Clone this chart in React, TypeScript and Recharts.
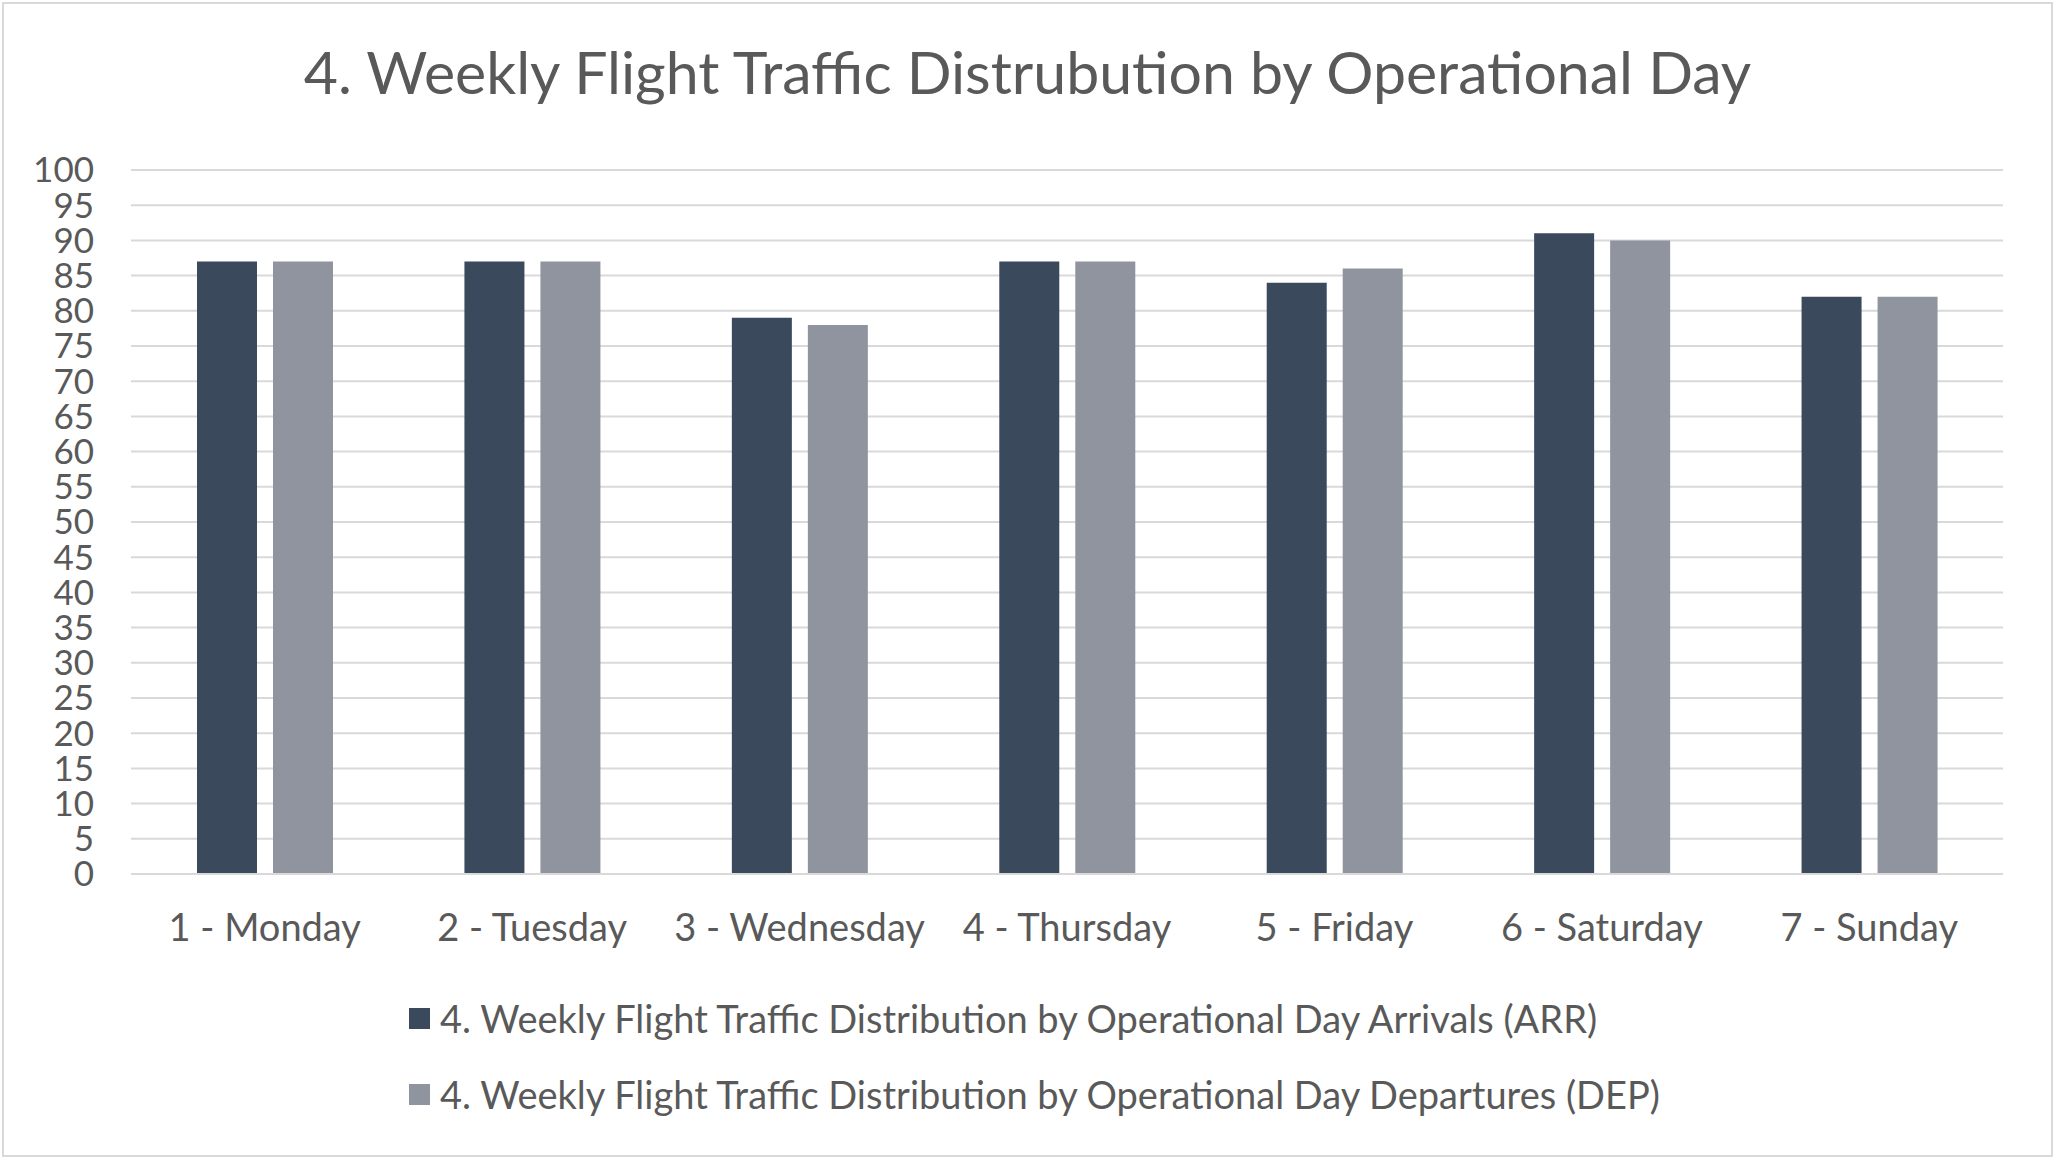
import React from "react";
import { BarChart, Bar, XAxis, YAxis, CartesianGrid, Legend } from "recharts";

const categories = ["1 - Monday", "2 - Tuesday", "3 - Wednesday", "4 - Thursday", "5 - Friday", "6 - Saturday", "7 - Sunday"];
const arrivals = [87, 87, 79, 87, 84, 91, 82];
const departures = [87, 87, 78, 87, 86, 90, 82];
const yTicks = [0, 5, 10, 15, 20, 25, 30, 35, 40, 45, 50, 55, 60, 65, 70, 75, 80, 85, 90, 95, 100];
const titleText = "4. Weekly Flight Traffic Distrubution by Operational Day";
const seriesNames = [
  "4. Weekly Flight Traffic Distribution by Operational Day Arrivals (ARR)",
  "4. Weekly Flight Traffic Distribution by Operational Day Departures (DEP)",
];
const seriesColors = ["#3A495C", "#8F949E"];

const data = categories.map((c, i) => ({ day: c, arr: arrivals[i], dep: departures[i] }));

const FONT = "Lato, 'Open Sans', sans-serif";
const TEXT = "#595959";

const LegendContent = (props: any) => {
  const payload = props.payload || [];
  return (
    <div style={{ paddingLeft: 409, fontFamily: FONT, color: TEXT, fontSize: 38 }}>
      {payload.map((p: any, i: number) => (
        <div key={i} style={{ display: "flex", alignItems: "center", height: 76 }}>
          <div style={{ width: 21, height: 21, background: p.color, marginRight: 10 }} />
          <span>{p.value}</span>
        </div>
      ))}
    </div>
  );
};

export default function App() {
  return (
    <div style={{ position: "absolute", left: 0, top: 0, width: 2055, height: 1159, background: "#fff" }}>
      <div
        style={{
          position: "absolute",
          left: 2,
          top: 2,
          width: 2051,
          height: 1155,
          border: "2px solid #D9D9D9",
          boxSizing: "border-box",
        }}
      />
      <div
        style={{
          position: "absolute",
          left: 0,
          top: 36,
          width: 2055,
          textAlign: "center",
          fontFamily: FONT,
          fontSize: 59,
          color: TEXT,
          lineHeight: "72px",
        }}
      >
        {titleText}
      </div>
      <div style={{ position: "absolute", left: 0, top: 0 }}>
        <BarChart
          width={2055}
          height={1159}
          data={data}
          margin={{ top: 170, right: 52, bottom: 205, left: 0 }}
          barCategoryGap={66}
          barGap={16}
        >
          <CartesianGrid vertical={false} stroke="#D9D9D9" strokeWidth={2} />
          <XAxis
            dataKey="day"
            axisLine={{ stroke: "#D9D9D9", strokeWidth: 2 }}
            tickLine={false}
            tickSize={0}
            tickMargin={40}
            height={80}
            tick={{ fill: TEXT, fontSize: 38, fontFamily: FONT }}
            interval={0}
          />
          <YAxis
            domain={[0, 100]}
            ticks={yTicks}
            interval={0}
            axisLine={false}
            tickLine={false}
            tickSize={0}
            tickMargin={37}
            width={131}
            tick={{ fill: TEXT, fontSize: 35, fontFamily: FONT }}
          />
          <Legend
            layout="vertical"
            align="center"
            verticalAlign="middle"
            wrapperStyle={{ top: 980, left: 0, width: 2055 }}
            content={<LegendContent />}
          />
          <Bar dataKey="arr" name={seriesNames[0]} fill={seriesColors[0]} isAnimationActive={false} />
          <Bar dataKey="dep" name={seriesNames[1]} fill={seriesColors[1]} isAnimationActive={false} />
        </BarChart>
      </div>
    </div>
  );
}
